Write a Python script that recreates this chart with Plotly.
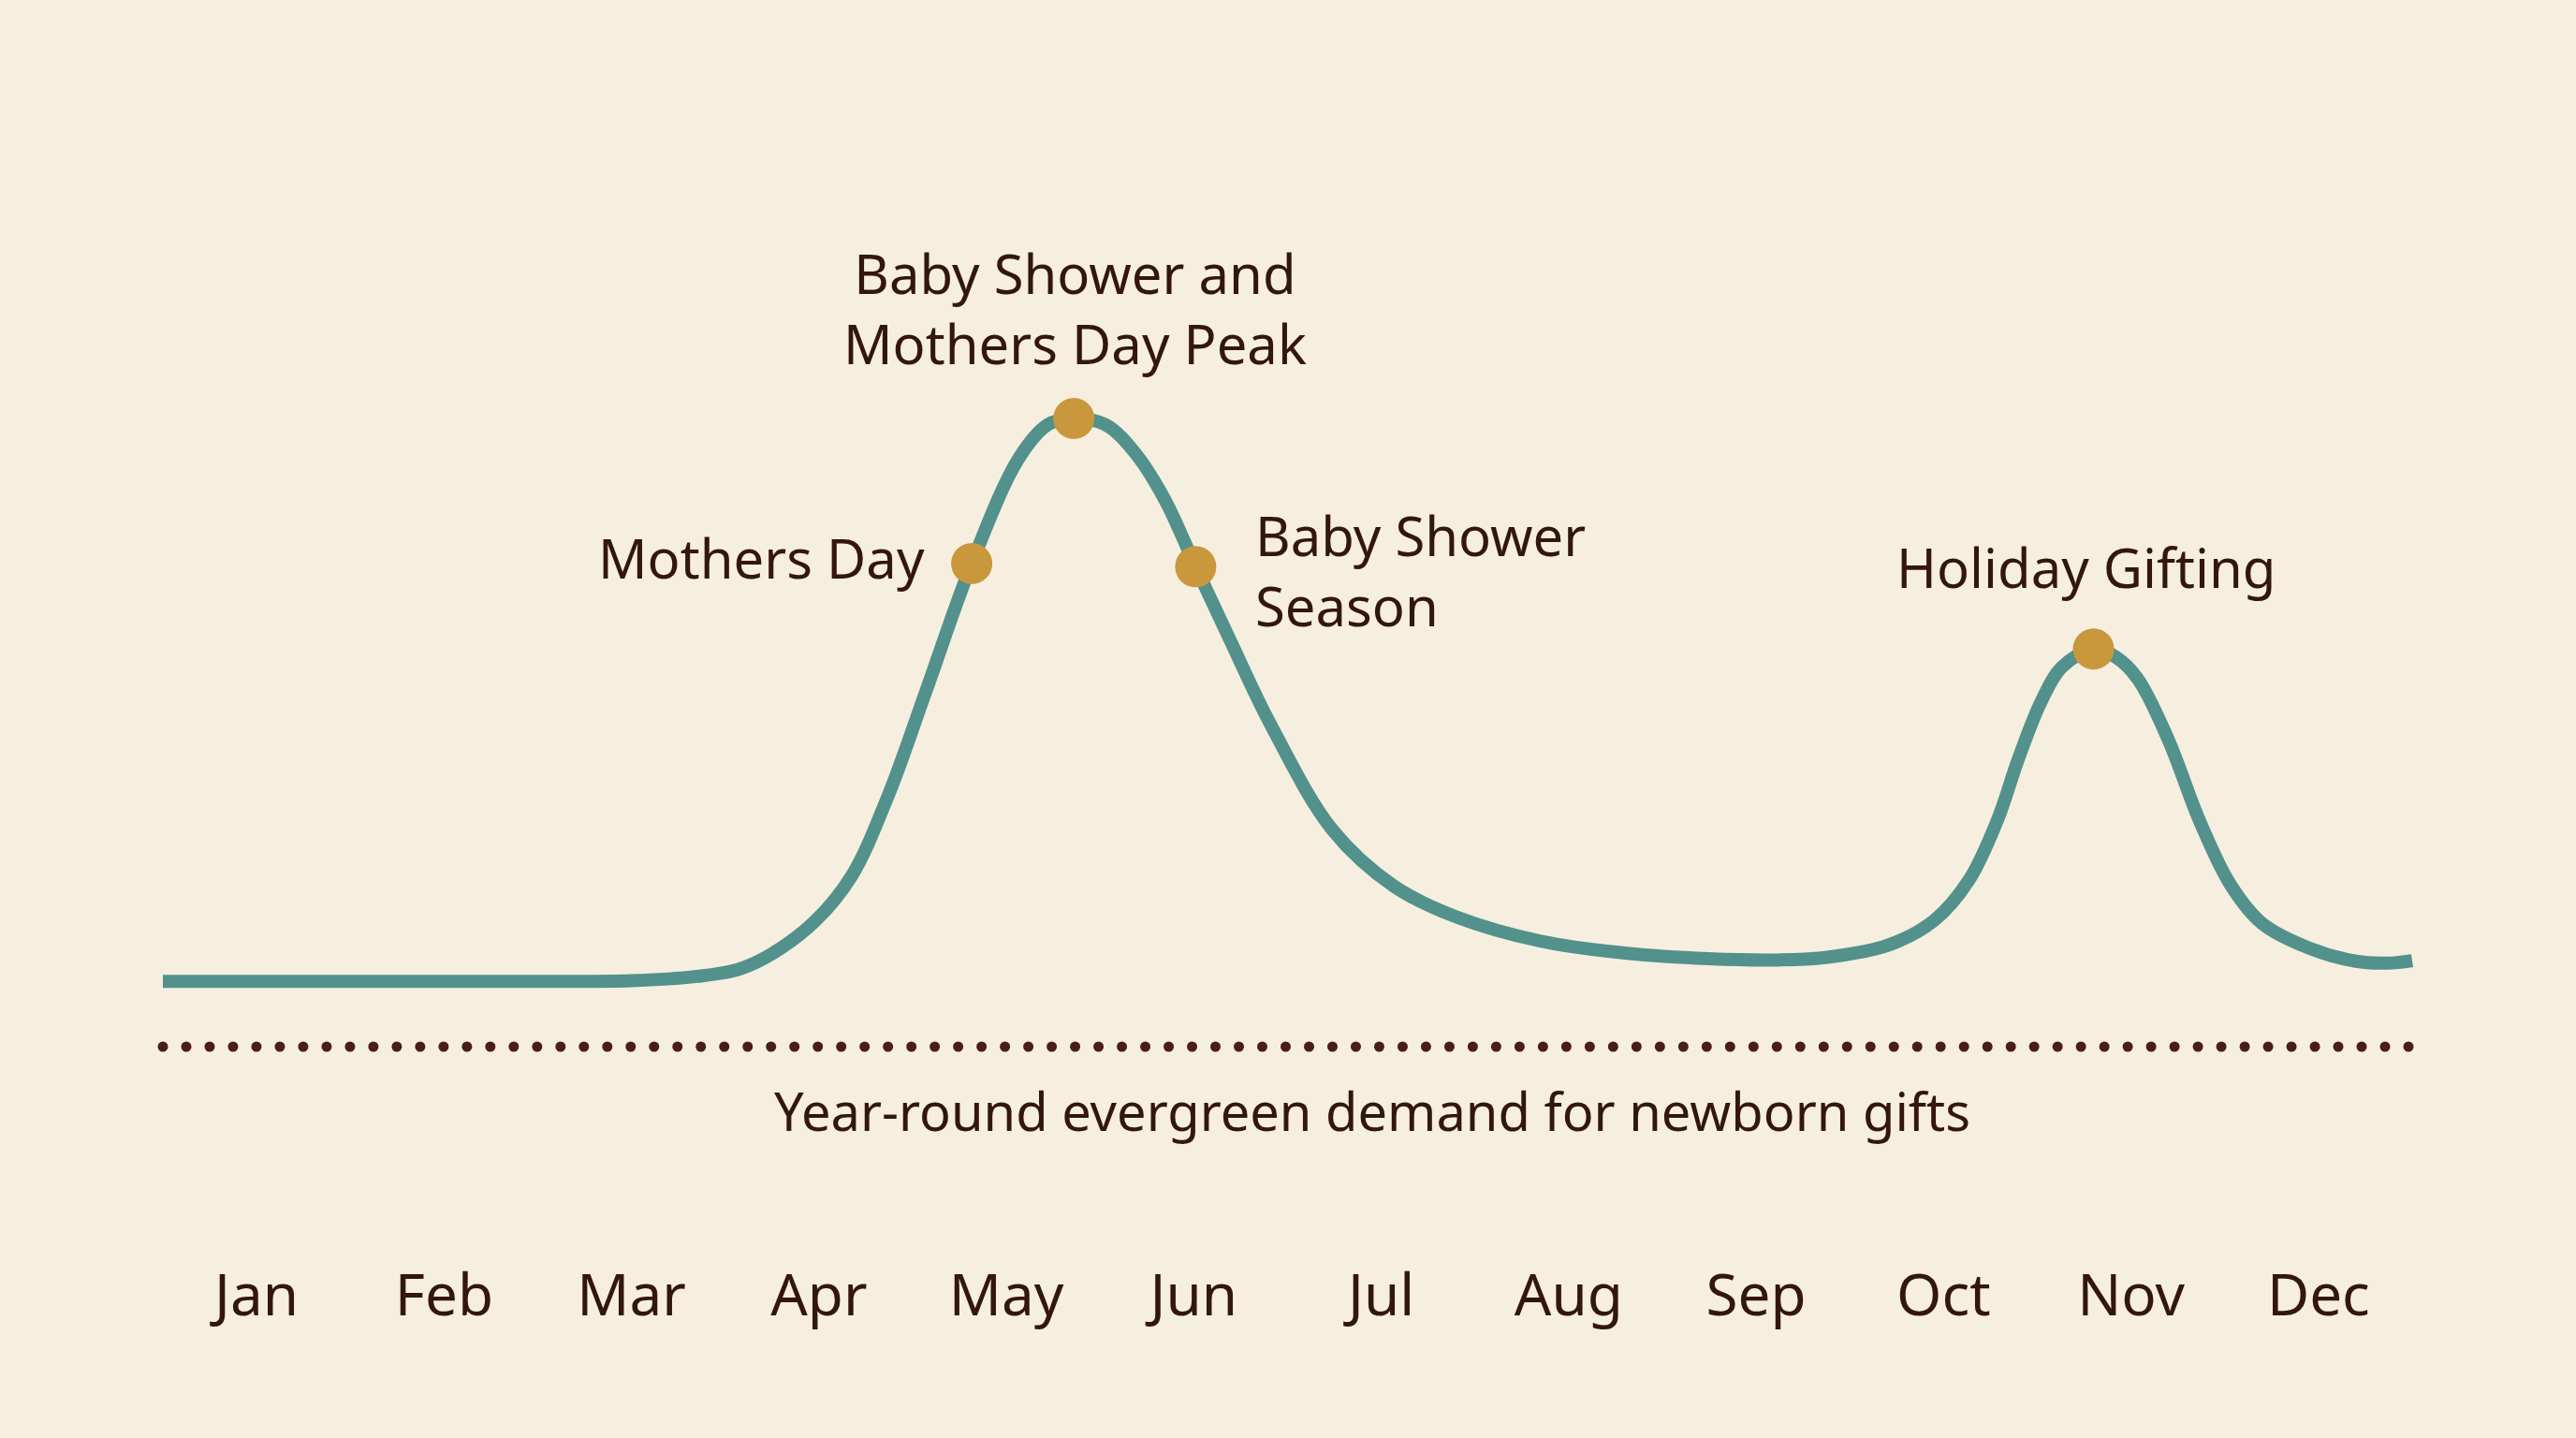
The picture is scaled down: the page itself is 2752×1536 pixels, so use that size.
import numpy as np
import plotly.graph_objects as go

# ---- data (x in months from Jan 1 = 0 to Dec 31 = 12; y = demand index) ----
months = ["Jan", "Feb", "Mar", "Apr", "May", "Jun", "Jul", "Aug", "Sep", "Oct", "Nov", "Dec"]
month_pos = [0.5, 1.5, 2.5, 3.5, 4.5, 5.5, 6.5, 7.5, 8.5, 9.5, 10.5, 11.5]

curve_x = [0.0, 1.0, 2.0, 2.5, 2.85, 3.07, 3.25, 3.48, 3.675, 3.87, 4.07, 4.315, 4.565, 4.72,
           4.86, 5.03, 5.19, 5.345, 5.51, 5.70, 5.906, 6.24, 6.57, 6.905, 7.35, 7.80,
           8.245, 8.62, 8.87, 9.20, 9.45, 9.635, 9.785, 9.90, 10.02, 10.13, 10.30, 10.42, 10.535,
           10.70, 10.865, 11.03, 11.20, 11.45, 11.70, 11.87, 12.0]
curve_y = [10.4, 10.4, 10.4, 10.5, 11.2, 12.3, 14.8, 20.0, 27.2, 40.0, 56.5, 76.9, 93.6, 99.0,
           100.0, 99.0, 94.4, 87.1, 76.4, 64.3, 51.5, 34.5, 25.5, 20.6, 16.8, 14.9,
           14.0, 13.8, 14.2, 16.1, 20.1, 26.5, 35.9, 45.9, 54.9, 60.4, 63.3, 62.0, 58.6,
           48.8, 36.0, 25.8, 19.6, 15.7, 13.6, 13.3, 13.7]

event_names = ["Mothers Day", "Baby Shower and Mothers Day Peak", "Baby Shower Season", "Holiday Gifting"]
event_x = [4.315, 4.86, 5.51, 10.30]
event_y = [76.9, 100.0, 76.4, 63.3]

evergreen_level = 0.0
evergreen_label = "Year-round evergreen demand for newborn gifts"

# ---- styling ----
BG = "#F6EFDF"
TEXT = "#33160E"
TEAL = "#52918C"
GOLD = "#C9973C"
DOT = "#4A1E14"
FONT = "Noto Sans"

fig = go.Figure()

# evergreen dotted baseline (decorative dots along a constant level)
dot_x = np.linspace(0.0, 11.98, 97)
fig.add_trace(go.Scatter(x=dot_x, y=[evergreen_level] * len(dot_x), mode="markers",
                         marker=dict(size=11, color=DOT, line=dict(width=0)),
                         hoverinfo="skip", showlegend=False))

fig.add_trace(go.Scatter(x=curve_x, y=curve_y, mode="lines",
                         line=dict(color=TEAL, width=14, shape="spline", smoothing=1.0),
                         showlegend=False))

fig.add_trace(go.Scatter(x=event_x, y=event_y, mode="markers",
                         marker=dict(size=44, color=GOLD, line=dict(width=0)),
                         text=event_names, hoverinfo="text", showlegend=False))

ann_font = dict(family=FONT, size=58, color=TEXT)
fig.add_annotation(x=4.864, y=117.6, text="Baby Shower and<br>Mothers Day Peak", showarrow=False,
                   xanchor="center", yanchor="middle", align="center", font=ann_font)
fig.add_annotation(x=4.075, y=77.8, text="Mothers Day", showarrow=False,
                   xanchor="right", yanchor="middle", font=ann_font)
fig.add_annotation(x=5.818, y=75.9, text="Baby Shower<br>Season", showarrow=False,
                   xanchor="left", yanchor="middle", align="left", font=ann_font)
fig.add_annotation(x=10.262, y=76.4, text="Holiday Gifting", showarrow=False,
                   xanchor="center", yanchor="middle", font=ann_font)
fig.add_annotation(x=6.452, y=-10.2, text=evergreen_label, showarrow=False,
                   xanchor="center", yanchor="middle", font=dict(family=FONT, size=56, color=TEXT))

B = 1342  # bottom of plotting area in px
px_per_unit = 6.71
y_top = 1118 / px_per_unit
y_bot = (1118 - B) / px_per_unit

fig.update_layout(
    width=2752, height=1536,
    margin=dict(l=0, r=0, t=0, b=1536 - B, pad=0),
    paper_bgcolor=BG, plot_bgcolor=BG,
    font=dict(family=FONT, color=TEXT),
    xaxis=dict(range=[-174 / 200.25, (2752 - 174) / 200.25], tickmode="array",
               tickvals=month_pos, ticktext=months, showgrid=False, zeroline=False,
               showline=False, ticks="", tickfont=dict(family=FONT, size=62, color=TEXT),
               fixedrange=True),
    yaxis=dict(range=[y_bot, y_top], visible=False, showgrid=False, zeroline=False,
               fixedrange=True),
    showlegend=False,
)

fig.write_html("out.html", config={"displayModeBar": False})
